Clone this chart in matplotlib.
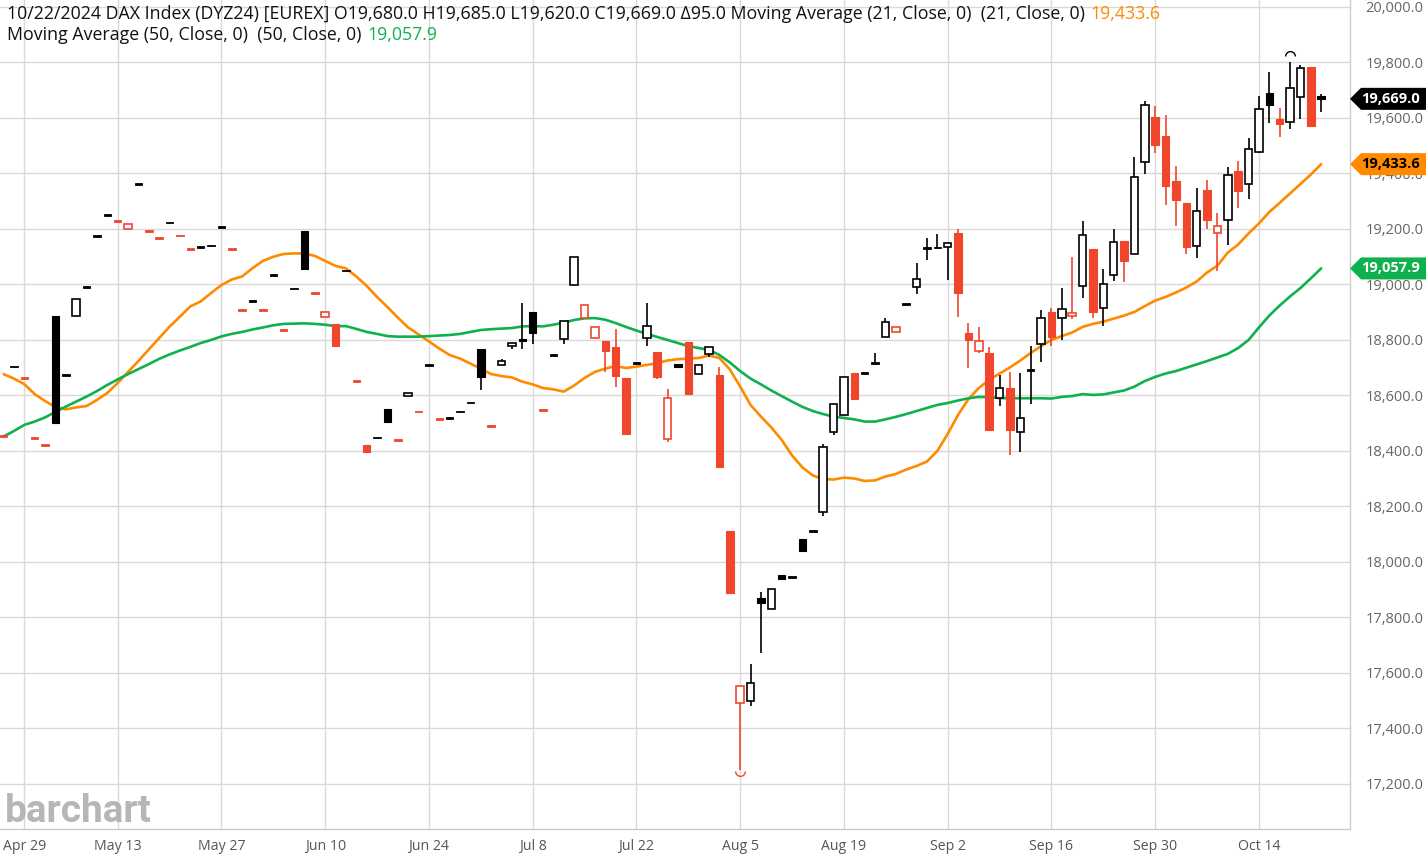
import matplotlib
matplotlib.use('Agg')
import matplotlib.pyplot as plt
import matplotlib.transforms as mtrans
from matplotlib.patches import Rectangle, Polygon
from matplotlib.path import Path
import numpy as np
import pandas as pd

plt.rcParams['font.family'] = ['Open Sans', 'DejaVu Sans']

#------------ trading days (Eurex, May 1 closed) -------------
days = pd.bdate_range('2024-04-25', '2024-10-22')
days = days[days != pd.Timestamp('2024-05-01')]

tick_dates = ['2024-04-29', '2024-05-13', '2024-05-27', '2024-06-10', '2024-06-24',
              '2024-07-08', '2024-07-22', '2024-08-05', '2024-08-19', '2024-09-02',
              '2024-09-16', '2024-09-30', '2024-10-14']
tick_labels = ['Apr 29', 'May 13', 'May 27', 'Jun 10', 'Jun 24', 'Jul 8', 'Jul 22',
               'Aug 5', 'Aug 19', 'Sep 2', 'Sep 16', 'Sep 30', 'Oct 14']

prev_close0 = 18480

#------------ OHLC, one row per week -------------
opens = [
    18455, 18704,
    18663, 18446, 18422, 18888,
    18673, 18886, 18992, 19175, 19250,
    19229, 19199, 19361, 19192, 19168,
    19223, 19176, 19129, 19134, 19141,
    19206, 19129, 18908, 18941, 18907,
    19034, 18835, 18986, 19192, 18970,
    18882, 18857, 19051, 18653, 18422,
    18449, 18550, 18440, 18597, 18542,
    18709, 18515, 18520, 18542, 18575,
    18766, 18490, 18709, 18778, 18805,
    18900, 18548, 18746, 18805, 18998,
    18878, 18808, 18795, 18776, 18663,
    18718, 18806, 18757, 18444, 18713,
    18793, 18679, 18750, 18675, 18113,
    17493, 17500, 17869, 17830, 17953,
    17945, 18082, 18112, 18179, 18470,
    18529, 18681, 18682, 18718, 18812,
    18829, 18929, 18992, 19130, 19133,
    19136, 19184, 18824, 18760, 18754,
    18590, 18626, 18470, 18690, 18785,
    18901, 18878, 18886, 18996, 19128,
    18914, 19033, 19157, 19111, 19441,
    19604, 19535, 19373, 19295, 19140,
    19340, 19185, 19231, 19410, 19363,
    19477, 19691, 19595, 19584, 19675,
    19785, 19680,
]
highs = [
    18455, 18704,
    18663, 18446, 18422, 18888,
    18673, 18949, 18992, 19175, 19250,
    19229, 19217, 19361, 19192, 19168,
    19223, 19176, 19129, 19134, 19141,
    19206, 19129, 18908, 18941, 18907,
    19034, 18835, 18986, 19192, 18970,
    18900, 18857, 19051, 18653, 18422,
    18449, 18550, 18440, 18608, 18542,
    18709, 18515, 18520, 18542, 18575,
    18766, 18490, 18730, 18788, 18934,
    18900, 18548, 18746, 18867, 19100,
    18925, 18848, 18795, 18839, 18663,
    18718, 18934, 18757, 18622, 18713,
    18793, 18709, 18776, 18702, 18113,
    17553, 17631, 17893, 17903, 17953,
    17945, 18082, 18112, 18425, 18568,
    18666, 18681, 18682, 18754, 18878,
    18848, 18929, 19076, 19166, 19182,
    19150, 19199, 18860, 18848, 18776,
    18674, 18686, 18680, 18779, 18908,
    18915, 18988, 19100, 19229, 19128,
    19057, 19199, 19157, 19461, 19661,
    19644, 19610, 19427, 19295, 19348,
    19375, 19259, 19423, 19444, 19529,
    19679, 19766, 19637, 19803, 19791,
    19785, 19685,
]
lows = [
    18455, 18704,
    18663, 18446, 18422, 18500,
    18673, 18886, 18992, 19175, 19250,
    19229, 19199, 19361, 19192, 19168,
    19223, 19176, 19129, 19134, 19141,
    19206, 19129, 18908, 18941, 18907,
    19034, 18835, 18986, 19057, 18970,
    18882, 18778, 19051, 18653, 18395,
    18449, 18504, 18440, 18597, 18542,
    18709, 18515, 18520, 18542, 18575,
    18620, 18490, 18709, 18769, 18766,
    18786, 18548, 18746, 18784, 18998,
    18878, 18808, 18684, 18630, 18462,
    18718, 18778, 18658, 18434, 18702,
    18604, 18679, 18740, 18343, 17887,
    17250, 17482, 17671, 17830, 17938,
    17945, 18040, 18112, 18166, 18458,
    18529, 18587, 18682, 18718, 18812,
    18829, 18929, 18965, 19088, 19133,
    19016, 18884, 18698, 18752, 18476,
    18563, 18386, 18395, 18568, 18722,
    18779, 18800, 18875, 18950, 18878,
    18850, 19014, 19008, 19111, 19397,
    19473, 19285, 19212, 19109, 19094,
    19199, 19050, 19143, 19275, 19307,
    19473, 19583, 19530, 19559, 19596,
    19571, 19620,
]
closes = [
    18455, 18704,
    18663, 18446, 18422, 18500,
    18673, 18949, 18992, 19175, 19250,
    19229, 19217, 19361, 19192, 19168,
    19223, 19176, 19129, 19134, 19141,
    19206, 19129, 18908, 18941, 18907,
    19034, 18835, 18986, 19057, 18970,
    18900, 18778, 19051, 18653, 18395,
    18449, 18504, 18440, 18608, 18542,
    18709, 18515, 18520, 18542, 18575,
    18668, 18490, 18725, 18788, 18795,
    18824, 18548, 18746, 18867, 19100,
    18925, 18848, 18759, 18671, 18462,
    18718, 18849, 18668, 18590, 18702,
    18604, 18709, 18776, 18343, 17887,
    17553, 17563, 17851, 17903, 17938,
    17945, 18040, 18112, 18416, 18568,
    18666, 18587, 18682, 18718, 18866,
    18848, 18929, 19021, 19131, 19134,
    19148, 18970, 18800, 18795, 18476,
    18626, 18474, 18518, 18694, 18878,
    18810, 18912, 18898, 19180, 18902,
    19001, 19154, 19085, 19389, 19647,
    19502, 19355, 19303, 19136, 19265,
    19232, 19211, 19395, 19337, 19489,
    19632, 19646, 19578, 19709, 19779,
    19571, 19669,
]

#------------ moving averages ----------------------------------
ma21 = [
    18677, 18661,
    18641, 18605, 18580, 18559,
    18550, 18557, 18562, 18584, 18609,
    18645, 18685, 18724, 18766, 18807,
    18848, 18884, 18921, 18939, 18969,
    18998, 19018, 19029, 19059, 19085,
    19100, 19110, 19112, 19112, 19103,
    19085, 19067, 19058, 19029, 18995,
    18955, 18919, 18881, 18845, 18820,
    18795, 18769, 18746, 18733, 18715,
    18697, 18677, 18670, 18665, 18650,
    18640, 18627, 18622, 18614, 18636,
    18663, 18685, 18697, 18706, 18699,
    18704, 18710, 18717, 18726, 18731,
    18733, 18735, 18744, 18735, 18694,
    18632, 18566, 18524, 18485, 18440,
    18384, 18341, 18312, 18299, 18297,
    18304, 18301, 18292, 18294, 18308,
    18317, 18333, 18346, 18362, 18400,
    18461, 18530, 18587, 18627, 18656,
    18679, 18701, 18726, 18753, 18778,
    18800, 18814, 18827, 18847, 18858,
    18866, 18877, 18888, 18901, 18922,
    18942, 18955, 18971, 18989, 19011,
    19043, 19068, 19115, 19144, 19184,
    19220, 19261, 19294, 19328, 19362,
    19396, 19433.6,
]
ma50 = [
    18452, 18472,
    18494, 18506, 18521, 18541,
    18560, 18578, 18596, 18616, 18638,
    18658, 18677, 18695, 18713, 18732,
    18748, 18762, 18775, 18789, 18800,
    18813, 18822, 18829, 18838, 18845,
    18853, 18858, 18859, 18860, 18858,
    18855, 18850, 18850, 18840, 18829,
    18822, 18814, 18812, 18812, 18812,
    18814, 18816, 18818, 18822, 18829,
    18836, 18839, 18841, 18843, 18849,
    18850, 18849, 18855, 18863, 18872,
    18878, 18879, 18873, 18861, 18847,
    18834, 18822, 18811, 18800, 18789,
    18778, 18771, 18764, 18746, 18719,
    18688, 18661, 18640, 18618, 18598,
    18578, 18559, 18544, 18533, 18524,
    18519, 18514, 18506, 18506, 18514,
    18523, 18533, 18544, 18555, 18566,
    18573, 18582, 18590, 18595, 18594,
    18591, 18590, 18590, 18590, 18590,
    18589, 18595, 18598, 18605, 18602,
    18604, 18611, 18618, 18632, 18652,
    18667, 18679, 18688, 18700, 18712,
    18724, 18737, 18750, 18771, 18800,
    18845, 18888, 18924, 18957, 18987,
    19022, 19057.9,
]

#------------ colours -------------
c_up = '#000000'
c_dn = '#f0462b'
c_ma21 = '#ff8a00'
c_ma50 = '#0fb14e'
c_grid = '#d9d9d9'

W, H = 1426, 860
fig = plt.figure(figsize=(W / 100, H / 100), dpi=100)
ax = fig.add_axes([0, 1 - 829 / H, 1350 / W, 829 / H])

n = len(closes)
x = np.arange(n)
prev = np.r_[prev_close0, closes[:-1]]
w = 0.72
min_h = 6

#------------ moving averages -------------
ax.plot(x, ma21, color=c_ma21, lw=1.9, zorder=2, solid_capstyle='round')
ax.plot(x, ma50, color=c_ma50, lw=1.9, zorder=2, solid_capstyle='round')

#------------ candles -------------
for i in range(n):
    o, h, l, c = opens[i], highs[i], lows[i], closes[i]
    col = c_up if c >= prev[i] else c_dn
    ax.vlines(x[i], l, h, color=col, lw=1.2, zorder=3)
    lo, hi = min(o, c), max(o, c)
    if hi - lo < min_h:
        mid = (o + c) / 2
        ax.add_patch(Rectangle((x[i] - w / 2, mid - min_h / 2), w, min_h,
                               facecolor=col, edgecolor=col, lw=0.6, zorder=4))
    elif c > o:
        ax.add_patch(Rectangle((x[i] - w / 2, lo), w, hi - lo,
                               facecolor='white', edgecolor=col, lw=1.2, zorder=4))
    else:
        ax.add_patch(Rectangle((x[i] - w / 2, lo), w, hi - lo,
                               facecolor=col, edgecolor=col, lw=0.8, zorder=4))

# highest high / lowest low markers
i_hi = int(np.argmax(highs))
i_lo = int(np.argmin(lows))
ax.plot(x[i_hi], highs[i_hi] + 22, marker=Path.arc(0, 180), ms=7, mew=1,
        mfc='none', mec=c_up, zorder=5)
ax.plot(x[i_lo], lows[i_lo] - 4, marker=Path.arc(180, 360), ms=7, mew=1,
        mfc='none', mec=c_dn, zorder=5)

#------------ axes -------------
ax.set_xlim(-0.342, 129.78)
ax.set_ylim(17037.8, 20025.2)
yt = np.arange(17200, 20001, 200)
ax.set_yticks(yt)
ax.set_yticklabels(['{:,.1f}'.format(v) for v in yt])
pos = [int(np.where(days == pd.Timestamp(d))[0][0]) for d in tick_dates]
ax.set_xticks(pos)
ax.set_xticklabels(tick_labels)
ax.yaxis.tick_right()
ax.tick_params(axis='y', length=0, pad=11, labelsize=10.5, labelcolor='#666666')
ax.tick_params(axis='x', length=0, pad=7, labelsize=10.2, labelcolor='#555555')
for lab in ax.get_yticklabels():
    lab.set_horizontalalignment('left')
ax.grid(True, color=c_grid, lw=1)
ax.set_axisbelow(True)
for s in ['top', 'left']:
    ax.spines[s].set_visible(False)
for s in ['right', 'bottom']:
    ax.spines[s].set_color('#cccccc')
    ax.spines[s].set_linewidth(1)

#------------ last value tags -------------
trans = mtrans.blended_transform_factory(fig.transFigure, ax.transData)
dh = 11 * 3.6036
for v, fc, tc in [(closes[-1], '#000000', 'white'),
                  (ma21[-1], c_ma21, 'black'),
                  (ma50[-1], c_ma50, 'white')]:
    xa, xb, xc = 1350 / W, 1361 / W, 1.0
    poly = Polygon([[xa, v], [xb, v + dh], [xc, v + dh], [xc, v - dh], [xb, v - dh]],
                   closed=True, transform=trans, facecolor=fc, edgecolor='none',
                   clip_on=False, zorder=10)
    fig.add_artist(poly)
    fig.text(1391 / W, v, '{:,.1f}'.format(v), transform=trans, ha='center',
             va='center', fontsize=10.5, fontweight='bold', color=tc, zorder=11)

#------------ header -------------
line1 = ('10/22/2024 DAX Index (DYZ24) [EUREX] O19,680.0 H19,685.0 L19,620.0 '
         'C19,669.0 \u039495.0 Moving Average (21, Close, 0)  (21, Close, 0)')
line2 = 'Moving Average (50, Close, 0)  (50, Close, 0)'
hfs = 12.75
t1 = fig.text(7 / W, 1 - 14 / H, line1, fontsize=hfs, va='center', color='#111111')
t2 = fig.text(7 / W, 1 - 35 / H, line2, fontsize=hfs, va='center', color='#111111')
ax.annotate('{:,.1f}'.format(ma21[-1]), xy=(1, 0.5), xycoords=t1, xytext=(4, 0),
            textcoords='offset points', va='center', fontsize=hfs, color=c_ma21,
            annotation_clip=False)
ax.annotate('{:,.1f}'.format(ma50[-1]), xy=(1, 0.5), xycoords=t2, xytext=(4, 0),
            textcoords='offset points', va='center', fontsize=hfs, color=c_ma50,
            annotation_clip=False)

#------------ logo -------------
fig.text(5 / W, 1 - 822 / H, 'barchart', fontsize=28, fontweight='bold',
         family='Roboto', color='#aaaaaa', alpha=0.85, va='baseline')

fig.savefig('out.png', dpi=100)
